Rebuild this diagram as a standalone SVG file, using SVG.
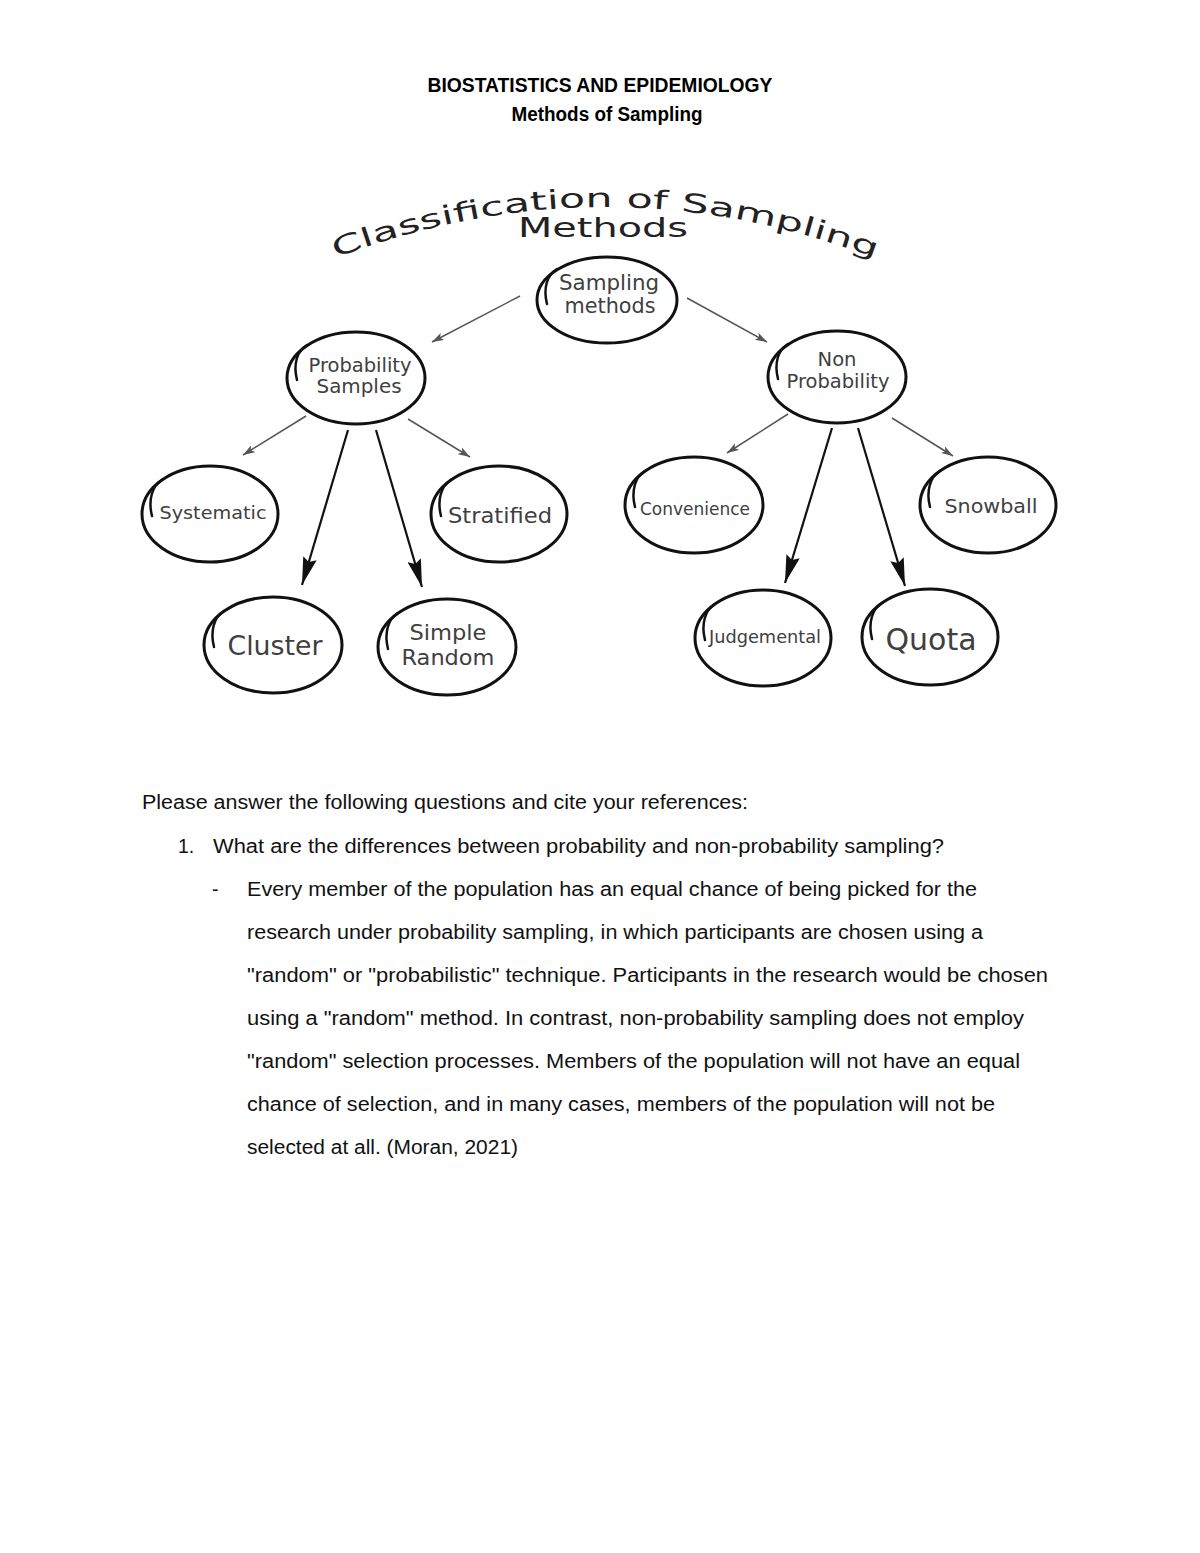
<svg xmlns="http://www.w3.org/2000/svg" width="1200" height="1553" viewBox="0 0 1200 1553">
<defs>
<style>
.doc{font-family:"Liberation Sans",Arial,sans-serif;font-size:19.5px;fill:#111}
.title{font-family:"Liberation Sans",Arial,sans-serif;font-size:19.5px;font-weight:bold;fill:#000}
.node ellipse{fill:none;stroke:#111;stroke-width:3}
.curl{fill:none;stroke:#111;stroke-width:2.5;stroke-linecap:round}
.lbl{font-family:"DejaVu Sans",Verdana,sans-serif;fill:#404040;text-anchor:middle}
.thin{stroke:#555;stroke-width:1.5;fill:none}
.thick{stroke:#111;stroke-width:2.2;fill:none}
.arc{font-family:"DejaVu Sans",Verdana,sans-serif;font-size:26px;fill:#222}
</style>
<marker id="sm" viewBox="0 0 12 8" refX="12" refY="4" markerWidth="12" markerHeight="8" orient="auto" markerUnits="userSpaceOnUse"><path d="M0,0 L12,4 L0,8 L3,4 z" fill="#555"/></marker>
<marker id="bg" viewBox="0 0 28 14" refX="28" refY="7" markerWidth="28" markerHeight="14" orient="auto" markerUnits="userSpaceOnUse"><path d="M0,0 L28,7 L0,14 L4,7 z" fill="#111"/></marker>
<path id="arcPath" d="M330,260 Q605,154 880,260"/>
</defs>
<rect width="1200" height="1553" fill="#fff"/>

<g id="heading">
<text class="title" x="600" y="92" text-anchor="middle" textLength="345" lengthAdjust="spacingAndGlyphs">BIOSTATISTICS AND EPIDEMIOLOGY</text>
<text class="title" x="607" y="121" text-anchor="middle" textLength="191" lengthAdjust="spacingAndGlyphs">Methods of Sampling</text>
</g>

<g id="diagram-title">
<text class="arc"><textPath href="#arcPath" startOffset="6" textLength="552" lengthAdjust="spacingAndGlyphs">Classification of Sampling</textPath></text>
<text class="arc" x="603" y="237" font-size="25" text-anchor="middle" textLength="170" lengthAdjust="spacingAndGlyphs">Methods</text>
</g>

<g id="connectors">
<line class="thin" x1="520" y1="296" x2="432" y2="342" marker-end="url(#sm)"/>
<line class="thin" x1="687" y1="298" x2="767" y2="342" marker-end="url(#sm)"/>
<line class="thin" x1="306" y1="416" x2="243" y2="455" marker-end="url(#sm)"/>
<line class="thin" x1="408" y1="419" x2="470" y2="457" marker-end="url(#sm)"/>
<line class="thick" x1="348" y1="430" x2="302" y2="585" marker-end="url(#bg)"/>
<line class="thick" x1="376" y1="430" x2="422" y2="587" marker-end="url(#bg)"/>
<line class="thin" x1="788" y1="414" x2="727" y2="453" marker-end="url(#sm)"/>
<line class="thin" x1="892" y1="418" x2="953" y2="456" marker-end="url(#sm)"/>
<line class="thick" x1="832" y1="428" x2="785" y2="583" marker-end="url(#bg)"/>
<line class="thick" x1="858" y1="428" x2="905" y2="586" marker-end="url(#bg)"/>
</g>

<g id="sampling-methods" class="node" transform="translate(607,300)">
<ellipse rx="70" ry="43"/>
<path class="curl" d="M-50,-31 C-60,-25 -64,-12 -60,4"/>
<text class="lbl" x="2" y="-10" font-size="21" textLength="100" lengthAdjust="spacingAndGlyphs">Sampling</text>
<text class="lbl" x="3" y="13" font-size="21" textLength="91" lengthAdjust="spacingAndGlyphs">methods</text>
</g>

<g id="probability-samples" class="node" transform="translate(356,378)">
<ellipse rx="69" ry="46"/>
<path class="curl" d="M-49,-33 C-59,-27 -63,-14 -59,2"/>
<text class="lbl" x="4" y="-6" font-size="19" textLength="103" lengthAdjust="spacingAndGlyphs">Probability</text>
<text class="lbl" x="3" y="15" font-size="19" textLength="85" lengthAdjust="spacingAndGlyphs">Samples</text>
</g>

<g id="non-probability" class="node" transform="translate(837,377)">
<ellipse rx="69" ry="46"/>
<path class="curl" d="M-49,-33 C-59,-27 -63,-14 -59,2"/>
<text class="lbl" x="0" y="-11" font-size="19" textLength="39" lengthAdjust="spacingAndGlyphs">Non</text>
<text class="lbl" x="1" y="11" font-size="19" textLength="103" lengthAdjust="spacingAndGlyphs">Probability</text>
</g>

<g id="systematic" class="node" transform="translate(210,514)">
<ellipse rx="68" ry="48"/>
<path class="curl" d="M-48,-34 C-58,-28 -62,-14 -58,2"/>
<text class="lbl" x="3" y="5" font-size="18" textLength="107" lengthAdjust="spacingAndGlyphs">Systematic</text>
</g>

<g id="stratified" class="node" transform="translate(499,514)">
<ellipse rx="68" ry="48"/>
<path class="curl" d="M-48,-34 C-58,-28 -62,-14 -58,2"/>
<text class="lbl" x="1" y="9" font-size="22" textLength="104" lengthAdjust="spacingAndGlyphs">Stratified</text>
</g>

<g id="cluster" class="node" transform="translate(273,645)">
<ellipse rx="69" ry="48"/>
<path class="curl" d="M-49,-34 C-59,-28 -63,-14 -59,2"/>
<text class="lbl" x="2" y="10" font-size="27" textLength="95" lengthAdjust="spacingAndGlyphs">Cluster</text>
</g>

<g id="simple-random" class="node" transform="translate(447,647)">
<ellipse rx="69" ry="48"/>
<path class="curl" d="M-49,-34 C-59,-28 -63,-14 -59,2"/>
<text class="lbl" x="1" y="-7" font-size="22" textLength="77" lengthAdjust="spacingAndGlyphs">Simple</text>
<text class="lbl" x="1" y="18" font-size="22" textLength="93" lengthAdjust="spacingAndGlyphs">Random</text>
</g>

<g id="convenience" class="node" transform="translate(694,505)">
<ellipse rx="69" ry="48"/>
<path class="curl" d="M-49,-34 C-59,-28 -63,-14 -59,2"/>
<text class="lbl" x="1" y="10" font-size="17" textLength="110" lengthAdjust="spacingAndGlyphs">Convenience</text>
</g>

<g id="snowball" class="node" transform="translate(988,505)">
<ellipse rx="68" ry="48"/>
<path class="curl" d="M-48,-34 C-58,-28 -62,-14 -58,2"/>
<text class="lbl" x="3" y="8" font-size="20" textLength="93" lengthAdjust="spacingAndGlyphs">Snowball</text>
</g>

<g id="judgemental" class="node" transform="translate(763,638)">
<ellipse rx="68" ry="48"/>
<path class="curl" d="M-48,-34 C-58,-28 -62,-14 -58,2"/>
<text class="lbl" x="2" y="5" font-size="18" textLength="112" lengthAdjust="spacingAndGlyphs">Judgemental</text>
</g>

<g id="quota" class="node" transform="translate(930,637)">
<ellipse rx="68" ry="48"/>
<path class="curl" d="M-48,-34 C-58,-28 -62,-14 -58,2"/>
<text class="lbl" x="1" y="13" font-size="30" textLength="91" lengthAdjust="spacingAndGlyphs">Quota</text>
</g>

<g id="body-text">
<text class="doc" x="142" y="809" textLength="606" lengthAdjust="spacingAndGlyphs">Please answer the following questions and cite your references:</text>
<text class="doc" x="178" y="853">1.</text>
<text class="doc" x="213" y="853" textLength="731" lengthAdjust="spacingAndGlyphs">What are the differences between probability and non-probability sampling?</text>
<text class="doc" x="212" y="896">-</text>
<text class="doc" x="247" y="896" textLength="730" lengthAdjust="spacingAndGlyphs">Every member of the population has an equal chance of being picked for the</text>
<text class="doc" x="247" y="939" textLength="736" lengthAdjust="spacingAndGlyphs">research under probability sampling, in which participants are chosen using a</text>
<text class="doc" x="247" y="982" textLength="801" lengthAdjust="spacingAndGlyphs">"random" or "probabilistic" technique. Participants in the research would be chosen</text>
<text class="doc" x="247" y="1025" textLength="777" lengthAdjust="spacingAndGlyphs">using a "random" method. In contrast, non-probability sampling does not employ</text>
<text class="doc" x="247" y="1068" textLength="773" lengthAdjust="spacingAndGlyphs">"random" selection processes. Members of the population will not have an equal</text>
<text class="doc" x="247" y="1111" textLength="748" lengthAdjust="spacingAndGlyphs">chance of selection, and in many cases, members of the population will not be</text>
<text class="doc" x="247" y="1154" textLength="271" lengthAdjust="spacingAndGlyphs">selected at all. (Moran, 2021)</text>
</g>
</svg>
